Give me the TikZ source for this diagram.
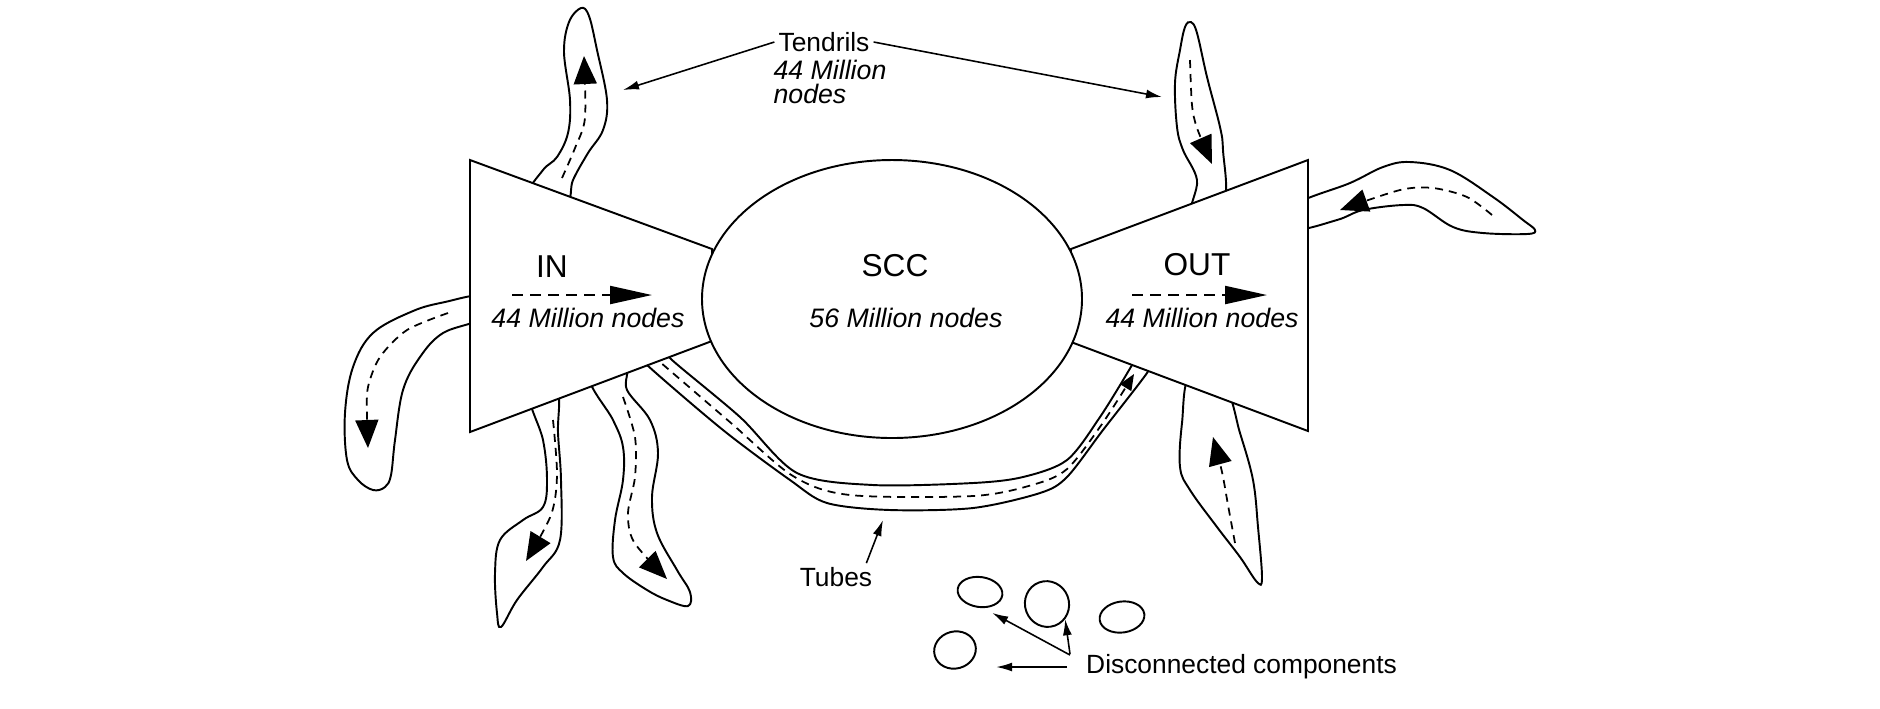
\documentclass[tikz,border=0pt]{standalone}
\usepackage{fontspec}
\setmainfont{Liberation Sans}
\usetikzlibrary{shapes.geometric, arrows.meta, positioning}

\begin{document}
\begin{tikzpicture}[
        x=0.1mm, y=-0.1mm,
        outline/.style={draw, fill=white, line width=0.55pt},
        flow/.style={line width=0.5pt, dash pattern=on 0.8mm off 0.6mm, -{Triangle[length=2.8mm, width=2.3mm]}},
        bigflow/.style={line width=0.6pt, dash pattern=on 1.1mm off 0.7mm, -{Triangle[length=4.2mm, width=1.8mm]}},
        lbl/.style={line width=0.45pt, -{Latex[length=1.6mm, width=0.9mm]}},
        title/.style={font=\fontsize{9}{10}\selectfont, inner sep=1pt},
        num/.style={font=\fontsize{7.6}{8}\selectfont\itshape, inner sep=1pt},
        note/.style={font=\fontsize{7.5}{8}\selectfont, inner sep=1pt},
        blob/.style={ellipse, draw, line width=0.55pt, inner sep=0pt}
    ]
        \useasboundingbox (0,0) rectangle (1880,708);

        % tendrils out of IN
        \draw[outline] plot[smooth cycle, tension=0.6] coordinates {(530,194) (543,170) (557,157) (568,133) (570,100) (564,52) (569,22) (581,8) (589,16) (597,50) (607,100) (603,130) (588,153) (573,180) (566,202)};
        \draw[flow] plot[smooth] coordinates {(562,178) (575,148) (585,118) (584,56)};
        \draw[outline] plot[smooth cycle, tension=0.6] coordinates {(482,296) (445,302) (413,311) (373,333) (353,367) (345,413) (347,460) (358,480) (373,490) (385,487) (391,475) (395,440) (403,390) (420,357) (443,333) (482,318)};
        \draw[flow] plot[smooth] coordinates {(448,313) (407,330) (380,357) (368,387) (367,415) (368,448)};
        \draw[outline] plot[smooth cycle, tension=0.6] coordinates {(530,396) (543,440) (547,480) (543,507) (523,520) (500,540) (495,573) (497,613) (501,627) (517,600) (543,567) (560,540) (561,480) (558,433) (557,390)};
        \draw[flow] plot[smooth] coordinates {(553,420) (557,475) (551,515) (526,561)};
        \draw[outline] plot[smooth cycle, tension=0.6] coordinates {(590,378) (613,420) (623,447) (623,480) (615,520) (613,557) (623,573) (647,590) (667,600) (688,606) (690,592) (677,570) (657,533) (652,497) (658,453) (650,420) (627,390) (625,368)};
        \draw[flow] plot[smooth] coordinates {(623,397) (635,437) (635,477) (628,513) (634,542) (667,579)};

        % tendrils into OUT
        \draw[outline] plot[smooth cycle, tension=0.6] coordinates {(1192,212) (1197,180) (1183,150) (1177,127) (1175,83) (1180,50) (1185,27) (1191,22) (1197,33) (1207,77) (1220,127) (1223,150) (1224,202)};
        \draw[flow] plot[smooth] coordinates {(1190,60) (1192,105) (1197,128) (1212,164)};
        \draw[outline] plot[smooth cycle, tension=0.6] coordinates {(1295,205) (1350,183) (1383,167) (1410,162) (1450,170) (1493,197) (1523,220) (1535,230) (1527,234) (1483,233) (1453,227) (1423,208) (1403,205) (1363,210) (1337,220) (1295,229)};
        \draw[flow] plot[smooth] coordinates {(1492,215) (1467,197) (1433,188) (1400,190) (1340,210)};
        \draw[outline] plot[smooth cycle, tension=0.6] coordinates {(1190,376) (1182,423) (1180,467) (1190,490) (1217,527) (1240,557) (1257,582) (1262,578) (1258,527) (1253,480) (1240,433) (1225,388)};
        \draw[flow] plot[smooth] coordinates {(1235,543) (1228,505) (1222,472) (1213,437)};

        % tube from IN to OUT
        \draw[line width=0.55pt] plot[smooth] coordinates {(638,352) (647,365) (723,430) (790,480) (827,503) (890,510) (973,508) (1040,493) (1067,477) (1103,430) (1147,373) (1153,358)};
        \draw[line width=0.55pt] plot[smooth] coordinates {(664,348) (672,360) (740,417) (797,473) (873,485) (973,483) (1023,477) (1067,460) (1100,417) (1132,365) (1137,353)};
        \draw[line width=0.5pt, dash pattern=on 0.8mm off 0.6mm, -{Triangle[length=1.6mm, width=1.3mm]}] plot[smooth] coordinates {(652,355) (660,362) (731,423) (793,476) (850,495) (973,496) (1032,485) (1067,469) (1102,424) (1134,374)};

        % IN, OUT and SCC
        \draw[outline] (470,160) -- (712,249) -- (712,341) -- (470,432) -- cycle;
        \draw[outline] (1308,160) -- (1071,249) -- (1071,342) -- (1308,431) -- cycle;
        \node[ellipse, draw, fill=white, line width=0.55pt, minimum width=38mm, minimum height=27.8mm, inner sep=0pt] (scc) at (892,299) {};

        \node[title] (intxt) at (552,267) {IN};
        \node[num] (innum) at (588,318) {44 Million nodes};
        \coordinate (ina) at (512,295);
        \coordinate (inb) at (652,295);
        \draw[bigflow] (ina) -- (inb);

        \node[title] (scctxt) at (895,266) {SCC};
        \node[num] (sccnum) at (906,318) {56 Million nodes};

        \node[title] (outtxt) at (1197,265) {OUT};
        \node[num] (outnum) at (1202,318) {44 Million nodes};
        \coordinate (outa) at (1132,295);
        \coordinate (outb) at (1267,295);
        \draw[bigflow] (outa) -- (outb);

        % labels
        \node[note] (tendrils) at (824,42) {Tendrils};
        \node[num, align=left, font=\fontsize{7.6}{6.8}\selectfont\itshape, below right=0mm and -0.5mm of tendrils.south west] (tendrilnum) {44 Million\\nodes};
        \coordinate (tendA) at (623,90);
        \coordinate (tendE) at (1162,97);
        \draw[lbl] (tendrils.west) -- (tendA);
        \draw[lbl] (tendrils.east) -- (tendE);

        \node[note] (tubes) at (836,577) {Tubes};
        \coordinate (tubept) at (883,520);
        \draw[lbl] ([xshift=-1mm]tubes.north east) -- (tubept);

        \node[blob, minimum width=4.5mm, minimum height=3mm, rotate=-8] (b1) at (980,592) {};
        \node[blob, minimum width=4.4mm, minimum height=4.6mm, rotate=20] (b2) at (1047,604) {};
        \node[blob, minimum width=4.5mm, minimum height=3.1mm, rotate=8] (b3) at (1122,617) {};
        \node[blob, minimum width=4.2mm, minimum height=3.7mm, rotate=15] (b4) at (955,650) {};
        \node[note, anchor=west] (disc) at (1082,667) {Disconnected components};
        \draw[lbl, shorten >=2mm] ([xshift=-1.5mm]disc.west) -- (disc.west -| b4.east);
        \draw[lbl, shorten >=1mm] ([xshift=-1.2mm, yshift=1.2mm]disc.west) -- (b1.-70);
        \draw[lbl] ([xshift=-1.2mm, yshift=1.3mm]disc.west) -- (b2.-60);
    \end{tikzpicture}
\end{document}
